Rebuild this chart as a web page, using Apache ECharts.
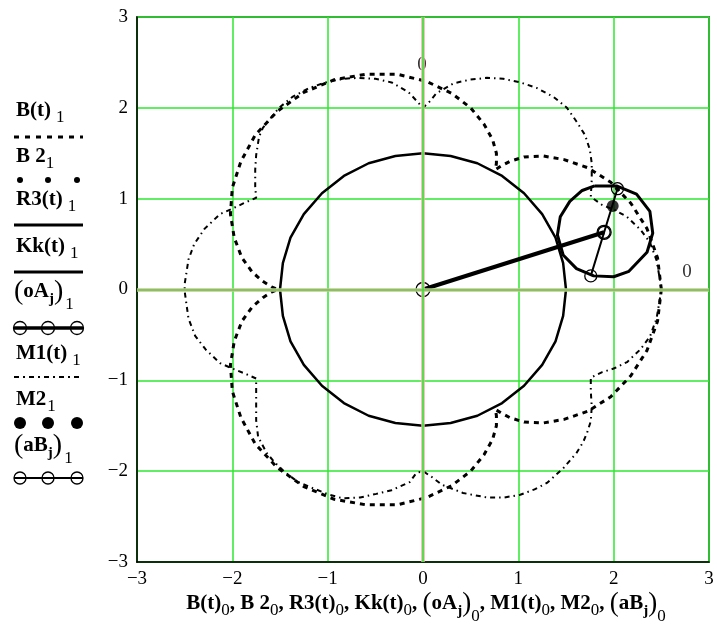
<!DOCTYPE html>
<html><head><meta charset="utf-8">
<script src="https://cdn.jsdelivr.net/npm/echarts@6/dist/echarts.min.js"></script>
<style>html,body{margin:0;padding:0;background:#fff}#c{width:717px;height:628px}</style>
</head><body><div id="c"></div>
<script>
// ---- data ----
const xTicks = [-3, -2, -1, 0, 1, 2, 3];
const yTicks = [-3, -2, -1, 0, 1, 2, 3];

const B_t = [[2.50,0.00],[2.46,0.35],[2.35,0.67],[2.18,0.95],[1.97,1.18],[1.73,1.34],[1.48,1.43],[1.26,1.47],[1.06,1.46],[0.91,1.41],[0.82,1.36],[0.76,1.32],[0.75,1.30],[0.76,1.32],[0.77,1.39],[0.77,1.50],[0.73,1.65],[0.64,1.82],[0.50,2.00],[0.30,2.16],[0.04,2.29],[-0.27,2.37],[-0.60,2.37],[-0.93,2.31],[-1.25,2.17],[-1.53,1.96],[-1.76,1.70],[-1.91,1.41],[-2.00,1.12],[-2.02,0.83],[-1.98,0.57],[-1.90,0.35],[-1.79,0.19],[-1.68,0.09],[-1.59,0.03],[-1.52,0.00],[-1.50,0.00],[-1.52,0.00],[-1.59,-0.03],[-1.68,-0.09],[-1.79,-0.19],[-1.90,-0.35],[-1.98,-0.57],[-2.02,-0.83],[-2.00,-1.12],[-1.91,-1.41],[-1.76,-1.70],[-1.53,-1.96],[-1.25,-2.17],[-0.93,-2.31],[-0.60,-2.37],[-0.27,-2.37],[0.04,-2.29],[0.30,-2.16],[0.50,-2.00],[0.64,-1.82],[0.73,-1.65],[0.77,-1.50],[0.77,-1.39],[0.76,-1.32],[0.75,-1.30],[0.76,-1.32],[0.82,-1.36],[0.91,-1.41],[1.06,-1.46],[1.26,-1.47],[1.48,-1.43],[1.73,-1.34],[1.97,-1.18],[2.18,-0.95],[2.35,-0.67],[2.46,-0.35],[2.50,0.00]];

const B2 = [[2.04,1.11]];

const R3_t = [[1.50,0.00],[1.47,0.29],[1.39,0.57],[1.25,0.83],[1.06,1.06],[0.83,1.25],[0.57,1.39],[0.29,1.47],[0.00,1.50],[-0.29,1.47],[-0.57,1.39],[-0.83,1.25],[-1.06,1.06],[-1.25,0.83],[-1.39,0.57],[-1.47,0.29],[-1.50,0.00],[-1.47,-0.29],[-1.39,-0.57],[-1.25,-0.83],[-1.06,-1.06],[-0.83,-1.25],[-0.57,-1.39],[-0.29,-1.47],[0.00,-1.50],[0.29,-1.47],[0.57,-1.39],[0.83,-1.25],[1.06,-1.06],[1.25,-0.83],[1.39,-0.57],[1.47,-0.29],[1.50,0.00]];

const Kk_t = [[1.80,1.14],[2.03,1.14],[2.24,1.05],[2.38,0.86],[2.41,0.62],[2.35,0.41],[2.16,0.20],[2.00,0.14],[1.79,0.15],[1.61,0.23],[1.47,0.38],[1.41,0.60],[1.44,0.80],[1.54,0.97],[1.67,1.09],[1.80,1.14]];

const oA = [[0,0],[1.90,0.63]];

const M1_t = [[2.50,0.00],[2.49,0.08],[2.45,0.32],[2.38,0.52],[2.28,0.66],[2.14,0.80],[2.00,0.88],[1.88,0.93],[1.76,1.02],
 [1.77,1.21],[1.77,1.39],[1.75,1.54],[1.70,1.70],[1.61,1.85],[1.51,2.00],[1.37,2.12],[1.19,2.22],[1.02,2.28],[0.84,2.32],[0.67,2.33],[0.49,2.31],[0.32,2.27],[0.14,2.16],[0.07,2.07],[0.00,2.00],
 [-0.07,2.08],[-0.15,2.17],[-0.33,2.28],[-0.50,2.32],[-0.67,2.33],[-0.84,2.32],[-1.02,2.28],[-1.19,2.22],[-1.37,2.12],[-1.51,2.00],[-1.61,1.87],[-1.68,1.78],[-1.72,1.68],[-1.75,1.48],[-1.76,1.32],[-1.76,1.13],[-1.75,1.01],
 [-1.88,0.95],[-2.00,0.89],[-2.13,0.83],[-2.29,0.67],[-2.40,0.50],[-2.46,0.33],[-2.50,0.06],[-2.50,-0.02],[-2.46,-0.32],[-2.39,-0.51],[-2.28,-0.66],[-2.13,-0.81],[-2.00,-0.87],[-1.88,-0.92],[-1.75,-0.98],
 [-1.75,-1.22],[-1.75,-1.44],[-1.73,-1.62],[-1.64,-1.80],[-1.55,-1.91],[-1.45,-2.01],[-1.31,-2.12],[-1.15,-2.19],[-0.98,-2.26],[-0.84,-2.30],[-0.66,-2.29],[-0.49,-2.25],[-0.33,-2.21],[-0.14,-2.12],[-0.07,-2.02],[0.00,-2.00],
 [0.10,-2.07],[0.20,-2.15],[0.42,-2.24],[0.67,-2.29],[0.85,-2.29],[1.02,-2.26],[1.17,-2.20],[1.30,-2.13],[1.47,-1.97],[1.61,-1.80],[1.68,-1.68],[1.72,-1.58],[1.76,-1.45],[1.77,-1.29],[1.76,-1.12],[1.76,-0.97],
 [1.88,-0.91],[2.00,-0.87],[2.14,-0.80],[2.28,-0.66],[2.38,-0.52],[2.45,-0.32],[2.49,-0.07],[2.50,0.00]];

const M2 = [[1.99,0.92]];
const aB = [[1.76,0.15],[1.90,0.63],[2.04,1.11]];

// ---- rendering ----
const FONT = '"Liberation Serif", "Times New Roman", serif';
const ctx = document.createElement('canvas').getContext('2d');
function segs(list, x0, yc, center) {
  const w = list.map(s => { ctx.font = (s[2] ? 'bold ' : '') + s[1] + 'px "Liberation Serif"'; return ctx.measureText(s[0]).width + (s[4] || 0); });
  const total = w.reduce((a, b) => a + b, 0);
  let x = center ? x0 - total / 2 : x0;
  const out = [];
  list.forEach((s, i) => {
    out.push({ type: 'text', x: x + (s[4] || 0), y: yc + (s[3] || 0), silent: true,
      style: { text: s[0], fontFamily: FONT, fontSize: s[1], fontWeight: s[2] ? 'bold' : 'normal', fill: '#000',
        align: 'left', verticalAlign: 'middle', textAlign: 'left', textVerticalAlign: 'middle' } });
    x += w[i];
  });
  return out;
}
const L = 21, S = 17, SD = 7, P = 28, J = 15;
const gfx = [];
// legend labels
gfx.push(...segs([['B(t)', L, 1], ['1', S, 0, SD, 5]], 16, 111));
gfx.push(...segs([['B 2', L, 1], ['1', S, 0, SD, 0]], 16, 157));
gfx.push(...segs([['R3(t)', L, 1], ['1', S, 0, SD, 5]], 16, 200));
gfx.push(...segs([['Kk(t)', L, 1], ['1', S, 0, SD, 5]], 16, 247));
gfx.push(...segs([['(', P, 0], ['oA', L, 1], ['j', J, 1, 7], [')', P, 0], ['1', S, 0, 13, 2]], 14, 292));
gfx.push(...segs([['M1(t)', L, 1], ['1', S, 0, SD, 5]], 16, 354));
gfx.push(...segs([['M2', L, 1], ['1', S, 0, SD, 1]], 16, 400));
gfx.push(...segs([['(', P, 0], ['aB', L, 1], ['j', J, 1, 7], [')', P, 0], ['1', S, 0, 13, 2]], 14, 446));
// legend samples
const ln = (y, w, dash) => ({ type: 'line', silent: true, shape: { x1: 14, y1: y, x2: 83, y2: y }, style: { stroke: '#000', lineWidth: w, lineDash: dash || null } });
const dots = (y, r, fill, lw) => [20, 48, 77].map(cx => ({ type: 'circle', silent: true, z: 10, shape: { cx: cx, cy: y, r: r }, style: { fill: fill, stroke: '#000', lineWidth: lw } }));
gfx.push(ln(137, 3, [5, 6]));
gfx.push(...dots(180, 3, '#000', 0));
gfx.push(ln(225, 3));
gfx.push(ln(272, 3));
gfx.push(ln(328, 3.5)); gfx.push(...dots(328, 6.5, 'rgba(0,0,0,0)', 1.3));
gfx.push(ln(377, 2, [5, 4, 2, 4]));
gfx.push(...dots(423, 6, '#000', 0));
gfx.push(ln(478, 2)); gfx.push(...dots(478, 6, 'rgba(0,0,0,0)', 1.3));
// x-axis title
const T = 21, TS = 17, TP = 27, TJ = 15;
gfx.push(...segs([
  ['B(t)', T, 1], ['0', TS, 0, SD], [', ', T, 1], ['B 2', T, 1], ['0', TS, 0, SD], [', ', T, 1],
  ['R3(t)', T, 1], ['0', TS, 0, SD], [', ', T, 1], ['Kk(t)', T, 1], ['0', TS, 0, SD], [', ', T, 1],
  ['(', TP, 0], ['oA', T, 1], ['j', TJ, 1, 7], [')', TP, 0], ['0', TS, 0, 13], [', ', T, 1],
  ['M1(t)', T, 1], ['0', TS, 0, SD], [', ', T, 1], ['M2', T, 1], ['0', TS, 0, SD], [', ', T, 1],
  ['(', TP, 0], ['aB', T, 1], ['j', TJ, 1, 7], [')', TP, 0], ['0', TS, 0, 13]
], 426, 604, true));
// marker value labels
gfx.push({ type: 'text', x: 422, y: 65, silent: true, style: { text: '0', fontFamily: FONT, fontSize: 19, fill: '#333', align: 'center', verticalAlign: 'middle', textAlign: 'center', textVerticalAlign: 'middle' } });
gfx.push({ type: 'text', x: 687, y: 272, silent: true, style: { text: '0', fontFamily: FONT, fontSize: 19, fill: '#333', align: 'center', verticalAlign: 'middle', textAlign: 'center', textVerticalAlign: 'middle' } });

const minus = v => String(v).replace('-', '\u2212');
const GREEN = '#2ee82e';
const axisCommon = {
  type: 'value', min: -3, max: 3, interval: 1,
  axisLine: { show: true, onZero: false, lineStyle: { color: '#000', width: 1.5 } },
  axisTick: { show: false },
  splitLine: { show: true, lineStyle: { color: GREEN, width: 1.5 } },
  axisLabel: { color: '#000', fontFamily: FONT, fontSize: 19, formatter: minus }
};
const lineSeries = (data, width, type, extra) => Object.assign({
  type: 'line', data: data, showSymbol: false, symbol: 'none', smooth: false, silent: true, animation: false,
  lineStyle: { color: '#000', width: width, type: type || 'solid' }
}, extra || {});
const zeroSeries = (color, width) => ({ type: 'line', data: [[0, 0]], symbol: 'none', lineStyle: { width: 0 }, silent: true, animation: false,
  markLine: { silent: true, symbol: 'none', animation: false, label: { show: false },
    lineStyle: { color: color, width: width, type: 'solid' },
    data: [{ xAxis: 0 }, { yAxis: 0 }] } });

const chart = echarts.init(document.getElementById('c'), null, { renderer: 'canvas' });
chart.setOption({
  backgroundColor: '#fff',
  animation: false,
  grid: { left: 137, top: 17, width: 572, height: 545, show: true, borderColor: '#000', borderWidth: 1.5, backgroundColor: 'transparent' },
  xAxis: Object.assign({}, axisCommon, { axisLabel: Object.assign({}, axisCommon.axisLabel, { margin: 8 }) }),
  yAxis: Object.assign({}, axisCommon, { axisLabel: Object.assign({}, axisCommon.axisLabel, { margin: 9 }) }),
  series: [
    zeroSeries('#f4aaaa', 3.5),
    zeroSeries(GREEN, 1.5),
    lineSeries(M1_t, 2, [5, 4, 1.5, 4]),
    lineSeries(B_t, 3, [5, 5]),
    lineSeries(R3_t, 2.5),
    lineSeries(Kk_t, 3),
    lineSeries(oA, 4, 'solid', { showSymbol: true, symbol: 'circle', symbolSize: 14,
      itemStyle: { color: 'rgba(0,0,0,0)', borderColor: '#000', borderWidth: 1.3 } }),
    lineSeries(aB, 2, 'solid', { showSymbol: true, symbol: 'circle', symbolSize: 12,
      itemStyle: { color: 'rgba(0,0,0,0)', borderColor: '#000', borderWidth: 1.3 } }),
    { type: 'scatter', data: B2, symbol: 'circle', symbolSize: 5, itemStyle: { color: '#000' }, silent: true, animation: false },
    { type: 'scatter', data: M2, symbol: 'circle', symbolSize: 12, itemStyle: { color: '#000' }, silent: true, animation: false }
  ],
  graphic: { elements: gfx }
});
</script>
</body></html>
